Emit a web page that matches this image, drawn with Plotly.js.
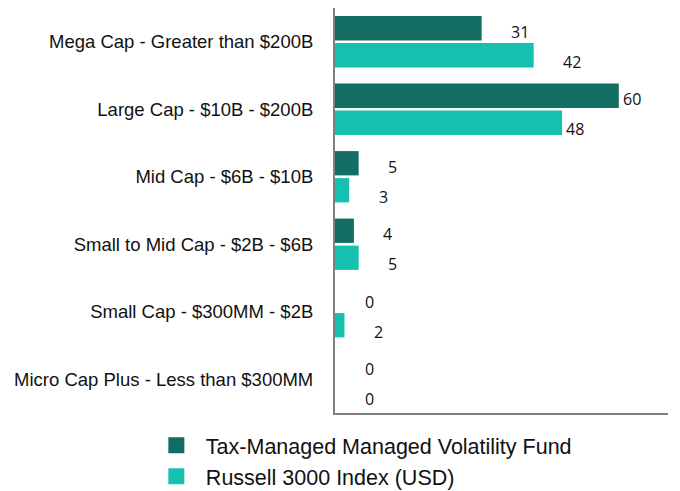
<!DOCTYPE html>
<html><head><meta charset="utf-8">
<script src="https://cdn.plot.ly/plotly-3.0.1.min.js"></script>
<style>html,body{margin:0;padding:0;background:#fff}#chart{width:680px;height:491px}</style>
</head><body><div id="chart"></div>
<script>
const categories = [
  "Mega Cap - Greater than $200B",
  "Large Cap - $10B - $200B",
  "Mid Cap - $6B - $10B",
  "Small to Mid Cap - $2B - $6B",
  "Small Cap - $300MM - $2B",
  "Micro Cap Plus - Less than $300MM"
];
const fundName = "Tax-Managed Managed Volatility Fund";
const indexName = "Russell 3000 Index (USD)";
const fundValues = [31, 60, 5, 4, 0, 0];
const indexValues = [42, 48, 3, 5, 2, 0];
const fundColor = "#136d63";
const indexColor = "#17bfb0";

const traces = [
  {type:"bar", orientation:"h", y:categories, x:fundValues, marker:{color:fundColor}, showlegend:false, hoverinfo:"x"},
  {type:"bar", orientation:"h", y:categories, x:indexValues, marker:{color:indexColor}, showlegend:false, hoverinfo:"x"},
  {type:"scatter", mode:"markers", x:[null], y:[null], name:fundName, marker:{symbol:"square", size:20, color:fundColor}},
  {type:"scatter", mode:"markers", x:[null], y:[null], name:indexName, marker:{symbol:"square", size:20, color:indexColor}}
];

const labelFont = {family:"Open Sans", size:16, color:"#111"};
const shiftFor = v => (v >= 45 ? 13 : (v >= 20 ? 38 : 34));
const annotations = [];
categories.forEach((c, i) => {
  annotations.push({x:fundValues[i], y:c, text:String(fundValues[i]), showarrow:false, xanchor:"center", xshift:shiftFor(fundValues[i]), yshift:10, font:labelFont});
  annotations.push({x:indexValues[i], y:c, text:String(indexValues[i]), showarrow:false, xanchor:"center", xshift:shiftFor(indexValues[i]), yshift:-20, font:labelFont});
});

const layout = {
  width:680, height:491,
  margin:{l:335, r:12, t:8, b:0, autoexpand:false},
  paper_bgcolor:"#fff", plot_bgcolor:"#fff",
  barmode:"group", bargap:0.2, bargroupgap:0.1,
  xaxis:{range:[0,70.4], showgrid:false, zeroline:false, showticklabels:false, ticks:"", showline:true, linecolor:"#808080", linewidth:2, fixedrange:true},
  yaxis:{type:"category", autorange:"reversed", domain:[0.1615,1], showgrid:false, zeroline:false, ticks:"", showline:true, linecolor:"#808080", linewidth:2, ticklabelstandoff:16, tickfont:{family:"Liberation Sans, Arial", size:18.5, color:"#111"}},
  legend:{orientation:"v", x:-0.565, xanchor:"left", y:0.137, yanchor:"top", font:{family:"Liberation Sans, Arial", size:21.5, color:"#111"}, tracegroupgap:0, itemwidth:49, bgcolor:"rgba(0,0,0,0)"},
  annotations:annotations,
  font:{family:"Liberation Sans, Arial"}
};
Plotly.newPlot("chart", traces, layout, {displayModeBar:false, staticPlot:true});
</script></body></html>
